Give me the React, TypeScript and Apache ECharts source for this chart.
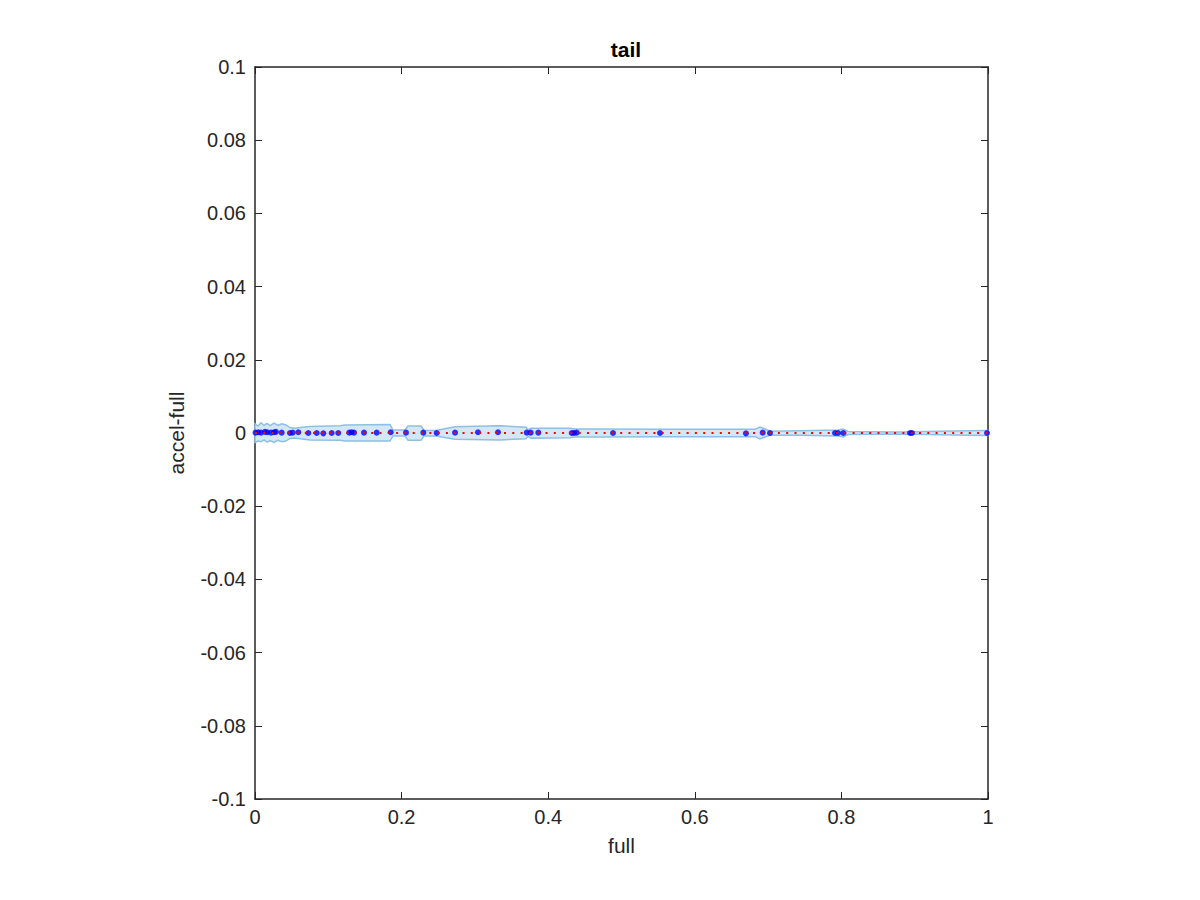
import React, { useEffect, useRef } from "react";
import * as echarts from "echarts";

const xTicks = [0, 0.2, 0.4, 0.6, 0.8, 1];
const yTicks = [-0.1, -0.08, -0.06, -0.04, -0.02, 0, 0.02, 0.04, 0.06, 0.08, 0.1];

// band (confidence region) along x
const bandX = [
  0, 0.0041, 0.0082, 0.0123, 0.0164, 0.0205, 0.0259, 0.0314, 0.0368, 0.0423,
  0.0477, 0.0546, 0.0614, 0.075, 0.116, 0.1228, 0.1842, 0.1883, 0.2046, 0.2087,
  0.2265, 0.2306, 0.2469, 0.2729, 0.3342, 0.3697, 0.3724, 0.3765, 0.4297, 0.4352,
  0.4707, 0.5525, 0.6821, 0.6889, 0.6958, 0.7026, 0.7435, 0.7954, 0.8022, 0.809,
  0.88, 0.9345, 0.9959, 1.0,
];
const bandUpper = [
  0.0025, 0.0019, 0.0028, 0.0021, 0.0026, 0.002, 0.0027, 0.0021, 0.0025, 0.0022,
  0.0015, 0.0013, 0.0015, 0.0018, 0.002, 0.0022, 0.0023, 0.0008, 0.0008, 0.0019,
  0.0019, 0.0007, 0.0007, 0.0017, 0.002, 0.0016, 0.0009, 0.0013, 0.0013, 0.0011,
  0.0011, 0.001, 0.001, 0.0016, 0.0011, 0.0005, 0.0006, 0.0008, 0.0011, 0.0004,
  0.0003, 0.0005, 0.0007, 0.0007,
];
const bandLower = [
  -0.0026, -0.0022, -0.0024, -0.0019, -0.0025, -0.0021, -0.0026, -0.002, -0.0024, -0.0022,
  -0.0015, -0.0014, -0.0016, -0.0019, -0.002, -0.0022, -0.0022, -0.0008, -0.0008, -0.002,
  -0.002, -0.0008, -0.0008, -0.0017, -0.0019, -0.0016, -0.0009, -0.0014, -0.0013, -0.0011,
  -0.0011, -0.001, -0.001, -0.0016, -0.0011, -0.0006, -0.0006, -0.0008, -0.0011, -0.0004,
  -0.0003, -0.0005, -0.0007, -0.0007,
];

// observed points
const pointX = [
  0.0007, 0.0045, 0.0082, 0.0136, 0.0168, 0.0218, 0.0259, 0.0286, 0.0364, 0.0477,
  0.0514, 0.0591, 0.0727, 0.0842, 0.0932, 0.1046, 0.1136, 0.1286, 0.1319, 0.1351,
  0.1487, 0.166, 0.1851, 0.206, 0.2296, 0.2479, 0.2729, 0.3042, 0.3315, 0.3707,
  0.3761, 0.3865, 0.4321, 0.4352, 0.4389, 0.4884, 0.5525, 0.6698, 0.6926, 0.7026,
  0.7913, 0.7954, 0.8026, 0.8936, 0.8963, 0.9986,
];
const pointY = [
  0.0001, 0.0002, 0.0001, 0.0003, 0.0002, 0.0001, 0.0002, 0.0003, 0.0001, 0.0,
  0.0001, 0.0002, 0.0, 0.0, -0.0001, 0.0, 0.0, 0.0001, 0.0002, 0.0001,
  0.0001, 0.0001, 0.0002, 0.0001, 0.0001, 0.0, 0.0001, 0.0002, 0.0002, 0.0001,
  0.0001, 0.0001, 0.0, 0.0, 0.0001, 0.0, 0.0, -0.0001, 0.0001, 0.0,
  0.0, 0.0, 0.0, 0.0, 0.0, 0.0,
];

// fitted mean line
const meanX = [0, 1];
const meanY = [0, 0];

const FONT = "'Liberation Sans', Arial, Helvetica, sans-serif";
const AX = "#262626";

export default function App() {
  const ref = useRef<HTMLDivElement>(null);
  useEffect(() => {
    if (!ref.current) return;
    const chart = echarts.init(ref.current, null, { renderer: "svg" });
    const axisCommon = {
      type: "value" as const,
      axisLine: { show: true, onZero: false, lineStyle: { color: AX, width: 1.5 } },
      axisTick: { show: true, inside: true, length: 7, lineStyle: { color: AX, width: 1 } },
      splitLine: { show: false },
    };
    const label = { color: AX, fontSize: 20, fontFamily: FONT };
    const nameStyle = { color: AX, fontSize: 21, fontFamily: FONT };
    chart.setOption({
      animation: false,
      backgroundColor: "#ffffff",
      title: {
        text: "tail",
        left: 621,
        textAlign: "center",
        top: 34,
        textStyle: { fontSize: 21, fontWeight: "bold", color: "#000", fontFamily: FONT },
      },
      grid: { left: 255, right: 212, top: 67, bottom: 101 },
      xAxis: [
        {
          ...axisCommon,
          position: "bottom",
          min: 0,
          max: 1,
          interval: 0.2,
          name: "full",
          nameLocation: "middle",
          nameGap: 36,
          nameTextStyle: nameStyle,
          axisLabel: { ...label, margin: 8, formatter: (v: number) => String(+v.toFixed(2)) },
        },
        {
          ...axisCommon,
          position: "top",
          min: 0,
          max: 1,
          interval: 0.2,
          axisLabel: { show: false },
        },
      ],
      yAxis: [
        {
          ...axisCommon,
          position: "left",
          min: -0.1,
          max: 0.1,
          interval: 0.02,
          name: "accel-full",
          nameLocation: "middle",
          nameGap: 68,
          nameRotate: 90,
          nameTextStyle: nameStyle,
          axisLabel: { ...label, margin: 9, formatter: (v: number) => String(+v.toFixed(2)) },
        },
        {
          ...axisCommon,
          position: "right",
          min: -0.1,
          max: 0.1,
          interval: 0.02,
          axisLabel: { show: false },
        },
      ],
      series: [
        {
          type: "custom",
          data: [[0, 0]],
          silent: true,
          renderItem: (_params: any, api: any) => {
            const pts: number[][] = [];
            for (let i = 0; i < bandX.length; i++) pts.push(api.coord([bandX[i], bandUpper[i]]));
            for (let i = bandX.length - 1; i >= 0; i--) pts.push(api.coord([bandX[i], bandLower[i]]));
            return {
              type: "polygon",
              shape: { points: pts },
              style: { fill: "#d5e6f4", stroke: "#8ec0e4", lineWidth: 1.5 },
            };
          },
          z: 1,
        },
        {
          type: "scatter",
          data: pointX.map((x, i) => [x, pointY[i]]),
          symbol: "circle",
          symbolSize: 6,
          itemStyle: { color: "#0000ff" },
          z: 2,
        },
        {
          type: "line",
          data: meanX.map((x, i) => [x, meanY[i]]),
          showSymbol: false,
          lineStyle: { color: "#ff0000", width: 2, type: [2, 6.3] },
          z: 3,
        },
      ],
    });
    return () => chart.dispose();
  }, []);
  return <div ref={ref} style={{ width: 1200, height: 900, margin: -8 }} />;
}
